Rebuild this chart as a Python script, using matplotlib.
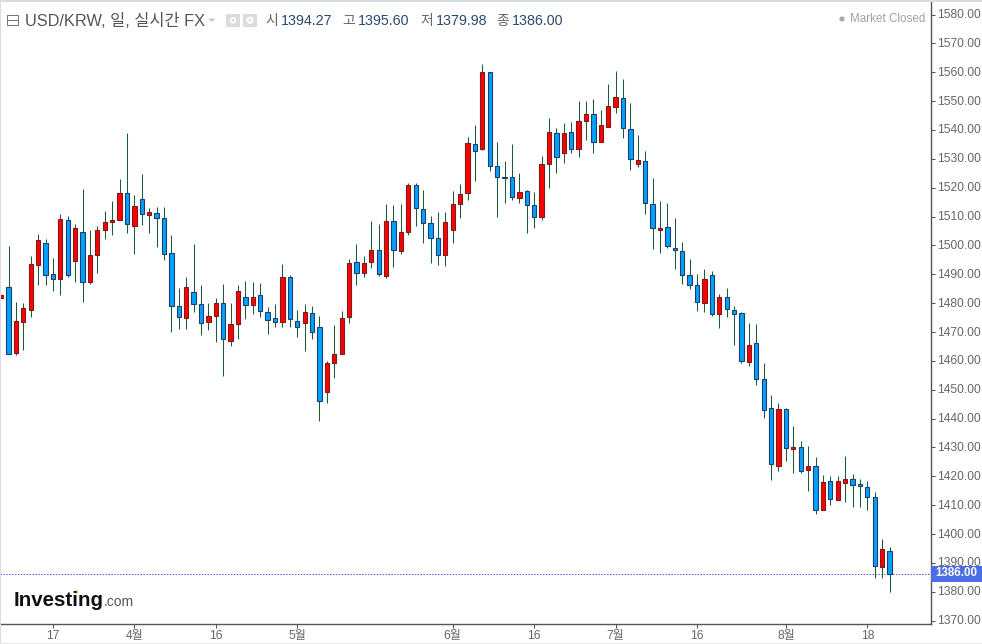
import matplotlib
matplotlib.use('Agg')
import matplotlib.pyplot as plt
import matplotlib.patches as patches
from matplotlib.transforms import Bbox, ScaledTranslation
import numpy as np

plt.rcParams['font.family'] = ['Liberation Sans', 'Noto Sans CJK KR']

# daily candles
opens = [1481.9, 1485.7, 1462.8, 1473.6, 1477.5, 1493.3, 1500.7, 1490.0, 1488.5, 1508.7,
         1494.7, 1504.5, 1487.4, 1496.8, 1505.5, 1508.2, 1508.7, 1518.1, 1506.6, 1516.0,
         1510.7, 1511.1, 1509.4, 1497.3, 1478.9, 1474.7, 1483.7, 1479.6, 1473.4, 1475.4,
         1479.9, 1466.8, 1472.7, 1482.0, 1479.2, 1482.7, 1476.8, 1474.7, 1473.3, 1488.9,
         1473.7, 1473.0, 1476.5, 1471.6, 1449.1, 1459.1, 1462.3, 1475.1, 1494.1, 1490.3,
         1494.1, 1498.3, 1489.5, 1508.3, 1497.9, 1504.5, 1520.8, 1512.5, 1507.6, 1502.5,
         1496.6, 1505.2, 1514.2, 1518.0, 1535.0, 1533.3, 1560.0, 1527.4, 1523.6, 1523.6,
         1516.5, 1518.7, 1513.9, 1509.7, 1528.1, 1538.8, 1531.9, 1539.2, 1533.3, 1543.0,
         1545.4, 1535.7, 1541.2, 1547.9, 1551.0, 1540.2, 1528.1, 1529.1, 1514.2, 1505.2,
         1506.3, 1499.0, 1497.9, 1489.6, 1486.2, 1480.0, 1489.6, 1476.1, 1482.0, 1477.5,
         1476.5, 1459.5, 1466.1, 1453.6, 1443.6, 1423.5, 1443.2, 1429.6, 1430.0, 1422.1,
         1423.5, 1408.2, 1418.3, 1411.9, 1417.6, 1419.0, 1417.2, 1416.2, 1413.0, 1388.5, 1394.27]
highs = [1482.8, 1499.8, 1480.4, 1479.9, 1496.3, 1504.0, 1502.1, 1495.5, 1510.9, 1510.1,
         1507.4, 1519.5, 1505.4, 1506.7, 1511.9, 1515.4, 1523.0, 1538.8, 1517.4, 1524.6,
         1512.9, 1513.2, 1513.2, 1503.5, 1485.1, 1488.9, 1500.4, 1486.2, 1480.1, 1481.8,
         1486.5, 1479.9, 1486.2, 1487.6, 1487.2, 1486.9, 1478.5, 1479.6, 1493.4, 1489.6,
         1477.5, 1479.6, 1478.9, 1475.4, 1459.8, 1472.3, 1477.2, 1495.3, 1500.4, 1496.2,
         1508.5, 1507.4, 1514.3, 1514.0, 1514.3, 1521.5, 1521.5, 1519.2, 1510.1, 1511.5,
         1511.5, 1518.8, 1521.2, 1537.4, 1541.6, 1563.0, 1560.0, 1535.7, 1529.1, 1535.0,
         1525.0, 1519.1, 1518.4, 1530.9, 1544.0, 1540.6, 1542.3, 1542.6, 1549.9, 1549.9,
         1550.6, 1547.1, 1555.8, 1560.3, 1557.6, 1549.2, 1538.2, 1532.6, 1523.2, 1515.3,
         1514.6, 1509.4, 1501.1, 1495.2, 1490.0, 1491.7, 1491.0, 1483.1, 1485.1, 1478.9,
         1476.8, 1473.0, 1472.7, 1459.1, 1448.1, 1445.3, 1443.6, 1437.3, 1432.1, 1430.4,
         1426.6, 1420.3, 1420.0, 1420.0, 1426.9, 1420.7, 1419.0, 1418.3, 1414.5, 1398.2, 1395.6]
lows = [1481.9, 1462.3, 1462.1, 1463.8, 1475.2, 1486.3, 1486.3, 1484.2, 1482.8, 1489.0,
        1487.3, 1480.4, 1486.6, 1490.4, 1502.2, 1503.6, 1508.7, 1504.4, 1497.1, 1507.2,
        1504.4, 1499.5, 1495.1, 1470.1, 1471.2, 1471.2, 1477.0, 1469.1, 1470.8, 1466.7,
        1454.9, 1465.3, 1467.7, 1474.6, 1476.4, 1475.3, 1469.4, 1471.9, 1471.9, 1471.9,
        1468.4, 1463.5, 1467.7, 1439.3, 1445.5, 1454.2, 1462.3, 1473.0, 1486.4, 1488.9,
        1492.3, 1489.5, 1488.8, 1492.6, 1497.1, 1503.7, 1506.8, 1500.9, 1494.0, 1493.3,
        1493.0, 1500.9, 1509.6, 1515.8, 1522.4, 1532.9, 1525.9, 1510.0, 1514.8, 1515.8,
        1514.8, 1504.4, 1506.1, 1508.9, 1520.0, 1525.2, 1528.4, 1531.9, 1530.7, 1536.6,
        1532.2, 1535.7, 1540.9, 1545.8, 1537.3, 1526.2, 1527.1, 1511.0, 1498.9, 1497.5,
        1499.2, 1491.9, 1486.8, 1485.0, 1477.4, 1477.0, 1475.7, 1471.5, 1475.3, 1465.6,
        1459.4, 1458.3, 1451.5, 1440.3, 1418.8, 1422.0, 1425.4, 1421.3, 1421.3, 1415.0,
        1407.1, 1408.2, 1410.0, 1411.7, 1411.2, 1409.2, 1409.5, 1408.4, 1384.9, 1384.9, 1379.98]
closes = [1482.8, 1462.3, 1473.7, 1478.2, 1493.4, 1501.8, 1489.9, 1488.5, 1509.0, 1489.9,
          1505.9, 1487.4, 1496.6, 1505.2, 1508.0, 1508.7, 1518.1, 1507.3, 1513.5, 1510.8,
          1511.5, 1509.4, 1496.9, 1478.9, 1475.1, 1485.5, 1479.6, 1473.0, 1475.4, 1479.9,
          1467.5, 1472.7, 1484.1, 1479.2, 1482.0, 1477.2, 1474.0, 1473.3, 1488.9, 1474.4,
          1471.6, 1476.8, 1469.9, 1446.0, 1459.1, 1462.3, 1474.7, 1493.8, 1490.3, 1493.8,
          1498.3, 1490.0, 1508.3, 1498.3, 1504.5, 1520.8, 1512.8, 1507.6, 1502.5, 1496.6,
          1508.0, 1514.2, 1517.7, 1535.4, 1532.6, 1560.0, 1527.4, 1523.6, 1523.2, 1516.7,
          1518.4, 1513.9, 1509.7, 1528.1, 1539.2, 1530.5, 1538.8, 1533.3, 1543.0, 1545.4,
          1535.7, 1541.6, 1548.2, 1551.3, 1540.6, 1529.8, 1529.5, 1514.6, 1505.9, 1505.9,
          1499.7, 1498.3, 1489.6, 1486.2, 1480.3, 1488.2, 1476.1, 1482.0, 1477.9, 1476.1,
          1459.8, 1465.4, 1453.6, 1442.9, 1424.2, 1443.2, 1429.7, 1430.0, 1421.7, 1423.5,
          1408.2, 1417.9, 1412.0, 1418.3, 1419.0, 1416.9, 1416.5, 1413.0, 1388.8, 1394.7, 1386.0]

date_ticks = [7, 18, 29, 40, 61, 72, 83, 94, 106, 117]
date_labels = ['17', '4월', '16', '5월', '6월', '16', '7월', '16', '8월', '18']
price_ticks = list(range(1370, 1590, 10))
last_price = 1386.00

header_labels = ['시', '고', '저', '종']
header_values = ['1394.27', '1395.60', '1379.98', '1386.00']

opens = np.array(opens)
closes = np.array(closes)
x = np.arange(len(opens))
up = closes >= opens

fig = plt.figure(figsize=(9.82, 6.44), dpi=100, facecolor='white')
ax = fig.add_axes([0, 20 / 644, 931 / 982, 622 / 644])
ax.set_xlim(-0.149, 125.6)
ax.set_ylim(1368.82, 1584.35)

# wicks under the bodies
ax.vlines(x, lows, highs, color='#1a5c3a', lw=0.75, zorder=2)
ax.bar(x[up], (closes - opens)[up], bottom=opens[up], width=0.58,
       color='#ff0000', edgecolor='#7d1c1c', linewidth=0.8, zorder=3)
ax.bar(x[~up], (opens - closes)[~up], bottom=closes[~up], width=0.58,
       color='#00a2ff', edgecolor='#1c3f6e', linewidth=0.8, zorder=3)

ax.axhline(last_price, color='#3f64d8', lw=0.7, ls=(0, (1.5, 1.5)), zorder=1)

for s in ['top', 'left']:
    ax.spines[s].set_visible(False)
for s in ['right', 'bottom']:
    ax.spines[s].set_color('#555555')
    ax.spines[s].set_linewidth(1.0)

ax.yaxis.tick_right()
ax.set_yticks(price_ticks)
ax.set_yticklabels(['%.2f' % p for p in price_ticks])
ax.set_xticks(date_ticks)
ax.set_xticklabels(date_labels)
ax.tick_params(axis='y', length=3, width=0.75, color='#555555', labelcolor='#666666',
               labelsize=8.65, pad=1.5)
ax.tick_params(axis='x', length=3, width=0.75, color='#555555', labelcolor='#666666',
               labelsize=8.65, pad=1.5)

# the lowest price label is cut off by the bottom of the axis
clip_box = Bbox([[931, 20], [982, 644]])
nudge = ScaledTranslation(0, 1 / 100, fig.dpi_scale_trans)
for lab in ax.get_yticklabels():
    lab.set_transform(lab.get_transform() + nudge)
    lab.set_clip_on(True)
    lab.set_clip_box(clip_box)

# overlay in pixel coordinates for the header, logo and price flag
ov = fig.add_axes([0, 0, 1, 1], zorder=5)
ov.set_xlim(0, 982)
ov.set_ylim(644, 0)
ov.axis('off')
ov.patch.set_alpha(0)

# page borders
ov.add_patch(patches.Rectangle((0, 0), 982, 1.5, color='#d9dde1', lw=0))
ov.add_patch(patches.Rectangle((0, 0), 1.2, 644, color='#d9dde1', lw=0))
ov.add_patch(patches.Rectangle((0, 642.5), 982, 2, color='#e3e6e9', lw=0))

# price flag
ov.add_patch(patches.Rectangle((931.5, 566), 51, 15.5, color='#4a6fe3', lw=0))
ov.text(956.5, 573.5, '%.2f' % last_price, color='white', fontsize=8.3, fontweight='bold',
        ha='center', va='center')

# header
ov.add_patch(patches.Rectangle((7, 14.5), 11.5, 10.5, fc='none', ec='#777777', lw=0.75))
ov.plot([7, 18.5], [19.8, 19.8], color='#777777', lw=0.75)
ov.text(25.5, 20.5, 'USD/KRW, 일, 실시간 FX', color='#555555', fontsize=11.8,
        ha='left', va='center')
ov.add_patch(patches.Polygon([[208, 18.5], [215.5, 18.5], [211.7, 22]], color='#c8c8c8', lw=0))
ov.add_patch(patches.Rectangle((226, 14), 14, 12.5, color='#dcdcdc', lw=0))
ov.add_patch(patches.Circle((233, 20.2), 3.2, fc='white', ec='none'))
ov.add_patch(patches.Circle((233, 20.2), 1.5, fc='#dcdcdc', ec='none'))
ov.add_patch(patches.Rectangle((243, 14), 14, 12.5, color='#dcdcdc', lw=0))
ov.add_patch(patches.Circle((250, 20.2), 3.6, fc='white', ec='none'))
ov.add_patch(patches.Circle((250, 20.2), 1.3, fc='#dcdcdc', ec='none'))

label_x = [265, 342, 420, 496]
value_x = [281, 358, 436, 512]
for lx, vx, lab, val in zip(label_x, value_x, header_labels, header_values):
    ov.text(lx, 20.5, lab, color='#666666', fontsize=10, ha='left', va='center')
    ov.text(vx, 20.5, val, color='#2c4a6e', fontsize=10.3, ha='left', va='center')

ov.add_patch(patches.Circle((842, 19), 2.6, fc='#aaaaaa', ec='none'))
ov.text(925, 19, 'Market Closed', color='#a0a0a0', fontsize=8.4, ha='right', va='center')

# logo
ov.text(13.5, 600, 'Investing', color='#111111', fontsize=14.8, fontweight='bold',
        ha='left', va='center')
ov.text(104, 602.5, '.com', color='#555555', fontsize=10, ha='left', va='center')
ov.add_patch(patches.Circle((76.3, 592), 1.7, fc='#f5a623', ec='none'))

fig.savefig('out.png', dpi=100)
